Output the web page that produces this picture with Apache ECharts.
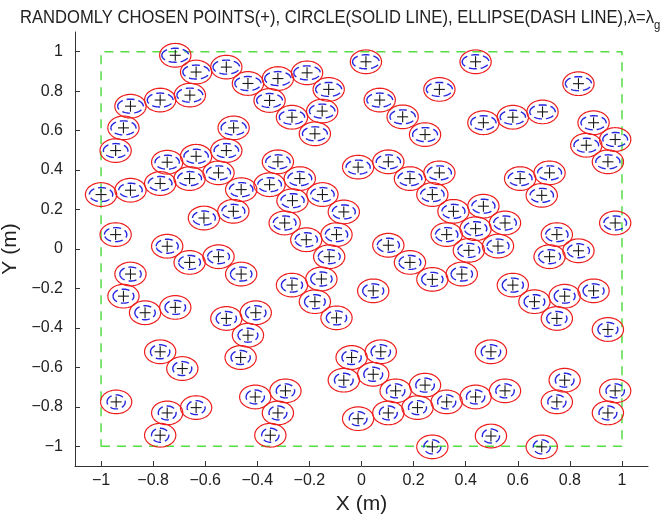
<!DOCTYPE html>
<html>
<head>
<meta charset="utf-8">
<script src="https://cdn.jsdelivr.net/npm/echarts@6.0.0/dist/echarts.min.js"></script>
<style>
html, body { margin: 0; padding: 0; background: #fff; }
#chart { width: 669px; height: 519px; }
</style>
</head>
<body>
<div id="chart"></div>
<script>
// randomly chosen points (+)
const ptX = [
  -0.715, -0.635, -0.519, -0.436, -0.659, -0.773, -0.887, -0.914, -0.944, -0.491,
  -0.519, -0.635, -0.746, -0.549, -0.660, -0.773, -0.887, -1.0, -0.462, -0.492,
  -0.605, -0.944, -0.746,
  -0.321, -0.209, -0.126, -0.353, -0.267, -0.151, -0.179, 0.017, 0.070, 0.158,
  0.244, 0.299, -0.321, -0.237, -0.353, -0.265, -0.150, -0.068, -0.295, -0.212,
  -0.096, -0.013, 0.103, 0.186, 0.299, 0.272, 0.353, 0.327, 0.103,
  0.438, 0.833, 0.468, 0.581, 0.695, 0.891, 0.863, 0.974, 0.946, 0.609,
  0.722, 0.692, 0.468, 0.551, 0.438, 0.524, 0.974, 0.750, 0.412, 0.722, 0.833,
  -0.660, -0.549, -0.462, -0.887, -0.914, -0.831, -0.715, -0.519, -0.406, -0.436,
  -0.464, -0.773, -0.688, -0.942, -0.746, -0.635, -0.773, -0.408,
  -0.124, 0.186, 0.272, -0.154, -0.267, -0.179, -0.096, 0.045, -0.038, 0.074,
  -0.068, 0.045, 0.131, 0.244, 0.327, 0.215, 0.103, -0.013, -0.292, -0.321,
  -0.350, 0.272,
  0.385, 0.581, 0.664, 0.780, 0.891, 0.750, 0.946, 0.497, 0.780, 0.750,
  0.974, 0.946, 0.551, 0.438, 0.497, 0.692
];
const ptY = [
  0.982, 0.897, 0.922, 0.839, 0.780, 0.755, 0.724, 0.614, 0.499, 0.614,
  0.499, 0.470, 0.440, 0.386, 0.357, 0.332, 0.298, 0.276, 0.301, 0.191,
  0.157, 0.073, 0.014,
  0.864, 0.893, 0.809, 0.753, 0.668, 0.699, 0.584, 0.949, 0.755, 0.670,
  0.580, 0.809, 0.442, 0.357, 0.326, 0.245, 0.276, 0.188, 0.132, 0.047,
  0.073, 0.415, 0.442, 0.357, 0.386, 0.276, 0.191, 0.073, 0.019,
  0.949, 0.838, 0.640, 0.668, 0.695, 0.640, 0.526, 0.555, 0.442, 0.357,
  0.386, 0.272, 0.217, 0.132, 0.103, 0.015, 0.132, 0.073, -0.007, -0.039, -0.009,
  -0.068, -0.039, -0.127, -0.127, -0.239, -0.323, -0.296, -0.352, -0.323, -0.437,
  -0.550, -0.521, -0.606, -0.775, -0.831, -0.804, -0.944, -0.750,
  -0.039, -0.068, -0.154, -0.152, -0.183, -0.267, -0.349, -0.212, -0.550, -0.521,
  -0.665, -0.635, -0.719, -0.690, -0.775, -0.804, -0.831, -0.860, -0.719, -0.831,
  -0.944, -1.003,
  -0.127, -0.183, -0.267, -0.239, -0.212, -0.352, -0.408, -0.521, -0.665, -0.775,
  -0.719, -0.831, -0.719, -0.750, -0.948, -1.003
];
// dashed green square
const boxX = [-1, 1, 1, -1, -1];
const boxY = [-1, -1, 1, 1, -1];
const tickVals = [-1, -0.8, -0.6, -0.4, -0.2, 0, 0.2, 0.4, 0.6, 0.8, 1];

const circleR = 0.06; // red circle radius, in data units
const titleMain = 'RANDOMLY CHOSEN POINTS(+), CIRCLE(SOLID LINE), ELLIPSE(DASH LINE),\u03bb=\u03bb';
const fontFam = '"Liberation Sans", Arial, sans-serif';

const chart = echarts.init(document.getElementById('chart'));

// title is condensed in the original, squeeze it to fit
const ctx = document.createElement('canvas').getContext('2d');
ctx.font = '19px ' + fontFam;
const tw = ctx.measureText(titleMain).width;
const sx = 634 / tw;

function ellipsePts(cx, cy, a, b, n) {
  const pts = [];
  for (let i = 0; i <= n; i++) {
    const t = Math.PI + i / n * Math.PI * 2;
    pts.push([cx + a * Math.cos(t), cy + b * Math.sin(t)]);
  }
  return pts;
}

function renderMark(params, api) {
  const x = api.value(0);
  const y = api.value(1);
  const c = api.coord([x, y]);
  const r = api.size([circleR, circleR]);
  // ellipses get flatter towards the top of the square
  const k = (y + 1) / 2;
  const ea = 8.5 + 5 * k;
  const eb = 7;
  return {
    type: 'group',
    children: [
      {
        type: 'polyline',
        shape: { points: ellipsePts(c[0], c[1], r[0], r[1], 64) },
        style: { stroke: '#ee1d1d', lineWidth: 1.2, fill: 'none' }
      },
      {
        type: 'polyline',
        shape: { points: ellipsePts(c[0], c[1], ea, eb, 64) },
        style: { stroke: '#2626e0', lineWidth: 1.4, lineDash: [8, 4], fill: 'none' }
      },
      {
        type: 'line',
        shape: { x1: c[0] - 5.5, y1: c[1], x2: c[0] + 5.5, y2: c[1] },
        style: { stroke: '#1a1a1a', lineWidth: 1.1 }
      },
      {
        type: 'line',
        shape: { x1: c[0], y1: c[1] - 5.5, x2: c[0], y2: c[1] + 5.5 },
        style: { stroke: '#1a1a1a', lineWidth: 1.1 }
      }
    ]
  };
}

const fmt = v => String(v).replace('-', '\u2212');

chart.setOption({
  animation: false,
  backgroundColor: '#fff',
  grid: { left: 75, right: 21, top: 32, bottom: 53, containLabel: false, outerBoundsMode: 'none' },
  graphic: [
    {
      type: 'text', x: 20, y: 8, scaleX: sx,
      style: { text: titleMain, font: '19px ' + fontFam, fill: '#222' }
    },
    {
      type: 'text', x: 20 + tw * sx, y: 19, scaleX: sx,
      style: { text: 'g', font: '13px ' + fontFam, fill: '#222' }
    }
  ],
  xAxis: {
    type: 'value', min: -1.1, max: 1.1,
    name: 'X (m)', nameLocation: 'middle', nameGap: 26,
    nameTextStyle: { fontSize: 21, color: '#222', fontFamily: fontFam },
    axisLine: { onZero: false, lineStyle: { color: '#333', width: 1 } },
    axisTick: { inside: true, length: 5, customValues: tickVals, lineStyle: { color: '#333' } },
    axisLabel: { customValues: tickVals, formatter: fmt, fontSize: 16, color: '#222', margin: 7, fontFamily: fontFam },
    splitLine: { show: false }
  },
  yAxis: {
    type: 'value', min: -1.1, max: 1.1,
    name: 'Y (m)', nameLocation: 'middle', nameGap: 42,
    nameTextStyle: { fontSize: 21, color: '#222', fontFamily: fontFam },
    axisLine: { show: true, onZero: false, lineStyle: { color: '#333', width: 1 } },
    axisTick: { show: true, inside: true, length: 5, customValues: tickVals, lineStyle: { color: '#333' } },
    axisLabel: { customValues: tickVals, formatter: fmt, fontSize: 16, color: '#222', margin: 12, fontFamily: fontFam },
    splitLine: { show: false }
  },
  series: [
    {
      type: 'line',
      data: boxX.map((x, i) => [x, boxY[i]]),
      symbol: 'none',
      lineStyle: { color: '#55dd44', width: 1.5, type: [9, 7] },
      z: 1
    },
    {
      type: 'custom',
      renderItem: renderMark,
      data: ptX.map((x, i) => [x, ptY[i]]),
      z: 2
    }
  ]
});
</script>
</body>
</html>
